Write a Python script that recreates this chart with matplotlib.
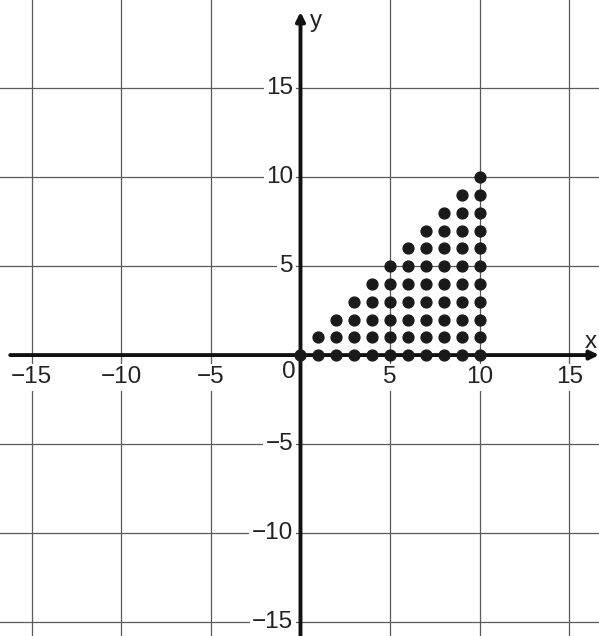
import numpy as np
import matplotlib.pyplot as plt

plt.rcParams['font.family'] = ['Liberation Sans', 'DejaVu Sans']

# lattice columns: x value and the highest y filled in that column
col_x = [0, 1, 2, 3, 4, 5, 6, 7, 8, 9, 10]
col_top = [0, 1, 2, 3, 4, 5, 6, 7, 8, 9, 10]

grid_vals = [-15, -10, -5, 5, 10, 15]
tick_labels = ['\u221215', '\u221210', '\u22125', '5', '10', '15']

fig = plt.figure(figsize=(5.99, 6.36), dpi=100)
ax = fig.add_axes([0, 0, 1, 1])
ax.set_xlim(-16.77, 16.66)
ax.set_ylim(-15.8, 19.97)
ax.axis('off')

grid_c = '#5a5a5a'
for v in grid_vals:
    ax.axvline(v, color=grid_c, lw=0.9, zorder=1)
    ax.axhline(v, color=grid_c, lw=0.9, zorder=1)

# axes with arrows
ax.annotate('', xy=(16.66, 0), xytext=(-16.2, 0),
            arrowprops=dict(arrowstyle='-|>', lw=2.8, color='#111111',
                            mutation_scale=13, shrinkA=0, shrinkB=0), zorder=4)
ax.annotate('', xy=(0, 19.3), xytext=(0, -15.8),
            arrowprops=dict(arrowstyle='-|>', lw=2.8, color='#111111',
                            mutation_scale=13, shrinkA=0, shrinkB=0), zorder=4)

box = dict(facecolor='white', edgecolor='none', pad=2.0)
fs = 17.5
for v, lab in zip(grid_vals, tick_labels):
    ax.text(v, -1.25, lab, ha='center', va='center', fontsize=fs,
            color='#222222', bbox=box, zorder=3)
    ax.text(-0.4, v, lab, ha='right', va='center', fontsize=fs,
            color='#222222', bbox=box, zorder=3)
ax.text(-0.65, -0.95, '0', ha='center', va='center', fontsize=fs,
        color='#222222', zorder=3)
ax.text(16.2, 0.75, 'x', ha='center', va='center', fontsize=fs, color='#222222')
ax.text(0.85, 18.8, 'y', ha='center', va='center', fontsize=fs, color='#222222')

px, py = [], []
for x, top in zip(col_x, col_top):
    for y in range(0, top + 1):
        px.append(x)
        py.append(y)
ax.plot(px, py, 'o', color='#1a1a1a', ms=7.8, zorder=5)

fig.savefig('out.png', dpi=100)
